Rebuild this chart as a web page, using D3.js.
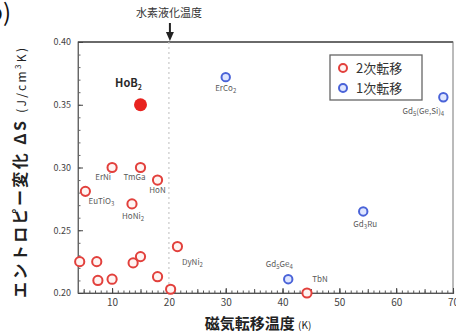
<!DOCTYPE html>
<html>
<head>
<meta charset="utf-8">
<script src="https://cdn.jsdelivr.net/npm/d3@7"></script>
<style>
  html, body { margin: 0; padding: 0; background: #fff; }
  svg { display: block; }
  text { font-family: "Noto Sans CJK JP", "Noto Sans", sans-serif; }
</style>
</head>
<body>
<svg id="chart" width="456" height="335"></svg>
<script>
// Second-order transition materials: transition temperature (K) and entropy change (J/cm^3 K)
const secondOrderNames = ["ErNi", "TmGa", "HoN", "EuTiO₃", "HoNi₂", "DyNi₂", "", "", "", "", "", "", "", "", "TbN"];
const secondOrderT     = [10, 15, 18, 5.3, 13.5, 21.5, 4.3, 7.3, 13.7, 15, 7.5, 10, 18, 20.3, 44.3];
const secondOrderDS    = [0.300, 0.300, 0.290, 0.281, 0.271, 0.237, 0.225, 0.225, 0.224, 0.229, 0.210, 0.211, 0.213, 0.203, 0.200];

// First-order transition materials
const firstOrderNames = ["ErCo₂", "Gd₅(Ge,Si)₄", "Gd₃Ru", "Gd₅Ge₄"];
const firstOrderT     = [30, 68.3, 54.2, 41];
const firstOrderDS    = [0.372, 0.356, 0.265, 0.211];

// HoB2 highlight
const hoB2 = { name: "HoB", sub: "2", T: 15, dS: 0.35 };

// Hydrogen liquefaction temperature (K)
const h2Temp = 20;

const xTicks = [10, 20, 30, 40, 50, 60, 70];
const yTicks = [0.20, 0.25, 0.30, 0.35, 0.40];

const legendLabels = ["2次転移", "1次転移"];

// label placement relative to each marker (pixels)
const labelOffsets = {
  "ErNi": [-9, 12], "TmGa": [-6, 12], "HoN": [0, 13], "EuTiO₃": [16, 13],
  "HoNi₂": [1, 15], "DyNi₂": [15, 18], "TbN": [13, -11],
  "ErCo₂": [0, 14], "Gd₅(Ge,Si)₄": [-20, 17], "Gd₃Ru": [2, 16], "Gd₅Ge₄": [-9, -12]
};

const svg = d3.select("#chart");
const W = 456, H = 335;
const m = { left: 78, right: 3, top: 42, bottom: 42 };

const x = d3.scaleLinear().domain([4, 70]).range([m.left, W - m.right]);
const y = d3.scaleLinear().domain([0.20, 0.40]).range([H - m.bottom, m.top]);

const RED = "#e2403c", BLUE = "#4a63d8";

// panel letter (mostly outside the page)
svg.append("text").attr("x", 11).attr("y", 21).attr("text-anchor", "end")
  .attr("font-size", 24).attr("fill", "#111").text("(b)");

// plot frame
svg.append("rect").attr("x", m.left).attr("y", m.top)
  .attr("width", W - m.right - m.left).attr("height", H - m.bottom - m.top)
  .attr("fill", "none").attr("stroke", "#777").attr("stroke-width", 1);
svg.append("line").attr("x1", m.left).attr("x2", W - m.right)
  .attr("y1", m.top).attr("y2", m.top).attr("stroke", "#6a6a6a").attr("stroke-width", 2.2);

// hydrogen liquefaction marker
svg.append("line").attr("x1", x(h2Temp)).attr("x2", x(h2Temp))
  .attr("y1", m.top).attr("y2", H - m.bottom)
  .attr("stroke", "#c8c8c8").attr("stroke-width", 1.2).attr("stroke-dasharray", "2,3");
svg.append("text").attr("x", x(h2Temp)).attr("y", 17).attr("text-anchor", "middle")
  .attr("font-size", 11).attr("fill", "#333").text("水素液化温度");
svg.append("line").attr("x1", x(h2Temp) + 1).attr("x2", x(h2Temp) + 1)
  .attr("y1", 23).attr("y2", 34).attr("stroke", "#222").attr("stroke-width", 2);
svg.append("path")
  .attr("d", `M${x(h2Temp) - 3},32 L${x(h2Temp) + 5},32 L${x(h2Temp) + 1},41 Z`)
  .attr("fill", "#222");

// axes with inward ticks
const xAxis = svg.append("g").attr("transform", `translate(0,${H - m.bottom})`);
xAxis.call(d3.axisBottom(x).tickValues(d3.range(5, 71, 1)).tickSize(-2.5).tickFormat(""))
  .call(g => g.selectAll("line").attr("stroke", "#555"));
xAxis.append("g").call(d3.axisBottom(x).tickValues(d3.range(5, 71, 5)).tickSize(-4).tickFormat(""))
  .call(g => g.select(".domain").remove()).call(g => g.selectAll("line").attr("stroke", "#555"));
xAxis.append("g").call(d3.axisBottom(x).tickValues(xTicks).tickSize(-5).tickPadding(6).tickFormat(d3.format("d")))
  .call(g => g.select(".domain").remove())
  .call(g => g.selectAll("line").attr("stroke", "#444"))
  .call(g => g.selectAll("text").attr("font-size", 10).attr("fill", "#444")
    .attr("font-family", "'DejaVu Sans', sans-serif"));
xAxis.select(".domain").attr("stroke", "#555").attr("stroke-width", 1.2);

const yAxis = svg.append("g").attr("transform", `translate(${m.left},0)`);
yAxis.call(d3.axisLeft(y).tickValues(d3.range(0, 21).map(i => 0.20 + i * 0.01)).tickSize(-2.5).tickFormat(""))
  .call(g => g.selectAll("line").attr("stroke", "#666"));
yAxis.append("g").call(d3.axisLeft(y).tickValues(yTicks).tickSize(-5).tickPadding(7).tickFormat(d3.format(".2f")))
  .call(g => g.select(".domain").remove())
  .call(g => g.selectAll("line").attr("stroke", "#444"))
  .call(g => g.selectAll("text").attr("font-size", 9).attr("fill", "#444")
    .attr("font-family", "'DejaVu Sans', sans-serif"));
yAxis.select(".domain").attr("stroke", "#666");

// axis titles
svg.append("text").attr("x", 258).attr("y", 329).attr("text-anchor", "middle")
  .attr("font-size", 15).attr("font-weight", "bold").attr("fill", "#222")
  .html('磁気転移温度 <tspan font-size="10" font-weight="normal">(K)</tspan>');
svg.append("text").attr("transform", "translate(26,173) rotate(-90)").attr("text-anchor", "middle")
  .attr("font-size", 16).attr("font-weight", "bold").attr("fill", "#222")
  .attr("textLength", 250).attr("lengthAdjust", "spacing")
  .html('エントロピー変化 ΔS <tspan font-size="12" font-weight="normal">(J/cm</tspan><tspan font-size="8" dy="-5" font-weight="normal">3</tspan><tspan font-size="12" dy="5" font-weight="normal">K)</tspan>');

// markers
const plot = svg.append("g");
const second = secondOrderT.map((t, i) => ({ T: t, dS: secondOrderDS[i], name: secondOrderNames[i] }));
const first = firstOrderT.map((t, i) => ({ T: t, dS: firstOrderDS[i], name: firstOrderNames[i] }));

function subLabel(sel, name) {
  // digits written as Unicode subscripts are drawn as small lowered text
  const parts = name.match(/[₀-₉]+|[^₀-₉]+/g) || [];
  let lowered = false;
  parts.forEach(p => {
    if (/[₀-₉]/.test(p)) {
      sel.append("tspan").attr("font-size", 6).attr("dy", lowered ? 0 : 2)
        .text(p.replace(/[₀-₉]/g, c => String(c.charCodeAt(0) - 0x2080)));
      lowered = true;
    } else {
      sel.append("tspan").attr("dy", lowered ? -2 : 0).text(p);
      lowered = false;
    }
  });
}

plot.selectAll("circle.so").data(second).join("circle").attr("class", "so")
  .attr("cx", d => x(d.T)).attr("cy", d => y(d.dS)).attr("r", 4.6)
  .attr("fill", "#fff4f2").attr("stroke", RED).attr("stroke-width", 2);

plot.selectAll("circle.fo").data(first).join("circle").attr("class", "fo")
  .attr("cx", d => x(d.T)).attr("cy", d => y(d.dS)).attr("r", 4.2)
  .attr("fill", "#dfe6ff").attr("stroke", BLUE).attr("stroke-width", 2);

[...second, ...first].filter(d => d.name).forEach(d => {
  const o = labelOffsets[d.name] || [0, 12];
  const t = plot.append("text").attr("x", x(d.T) + o[0]).attr("y", y(d.dS) + o[1])
    .attr("text-anchor", "middle").attr("font-size", 8).attr("fill", "#5a5a5a")
    .attr("font-family", "'DejaVu Sans', sans-serif");
  subLabel(t, d.name);
});

// HoB2
plot.append("circle").attr("cx", x(hoB2.T)).attr("cy", y(hoB2.dS)).attr("r", 6.5).attr("fill", "#e8231f");
const hl = plot.append("text").attr("x", x(hoB2.T) - 12).attr("y", y(hoB2.dS) - 18)
  .attr("text-anchor", "middle").attr("font-size", 11).attr("font-weight", "bold").attr("fill", "#2a2a2a")
  .attr("font-family", "'DejaVu Sans', sans-serif");
hl.append("tspan").text(hoB2.name);
hl.append("tspan").attr("font-size", 7).attr("dy", 3).text(hoB2.sub);

// legend
const lg = svg.append("g").attr("transform", "translate(330,55)");
lg.append("rect").attr("width", 92).attr("height", 45).attr("fill", "#fff")
  .attr("stroke", "#666").attr("stroke-width", 1.3);
const legendColors = [RED, BLUE], legendFills = ["#fff4f2", "#dfe6ff"];
legendLabels.forEach((lab, i) => {
  lg.append("circle").attr("cx", 13).attr("cy", 13 + i * 20).attr("r", 4)
    .attr("fill", legendFills[i]).attr("stroke", legendColors[i]).attr("stroke-width", 2);
  lg.append("text").attr("x", 26).attr("y", 18 + i * 20).attr("font-size", 13)
    .attr("fill", "#333").text(lab);
});
</script>
</body>
</html>
